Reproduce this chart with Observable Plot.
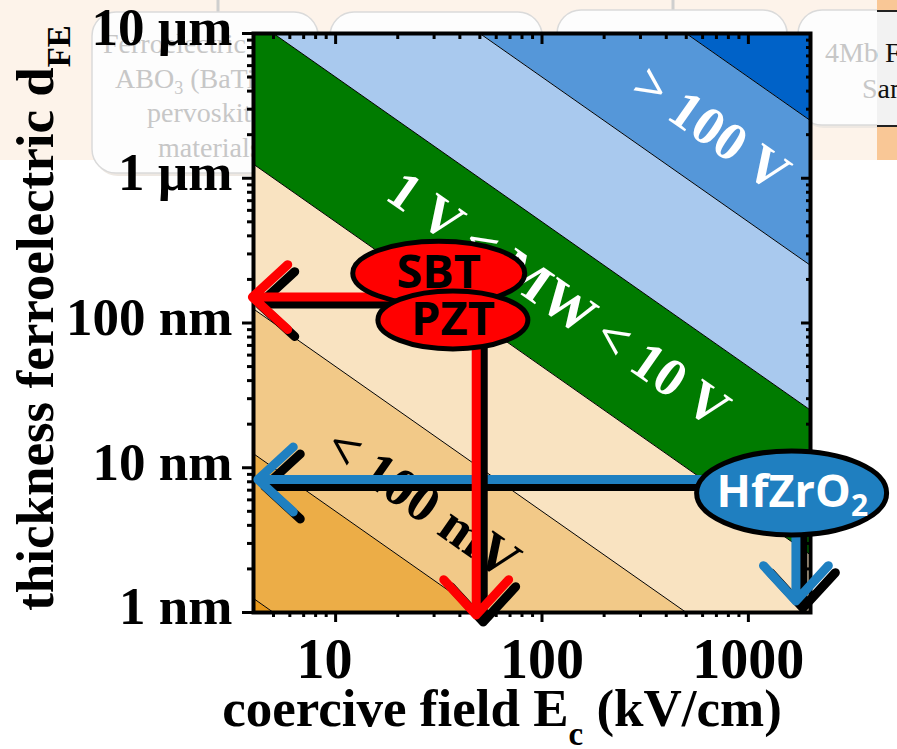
<!DOCTYPE html>
<html><head><meta charset="utf-8">
<script src="https://cdn.jsdelivr.net/npm/d3@7"></script>
<script src="https://cdn.jsdelivr.net/npm/@observablehq/plot@0.6"></script>
<style>
html,body{margin:0;padding:0;background:#fff;}
#wrap{position:relative;width:897px;height:749px;overflow:hidden;}
#bg,#chart{position:absolute;left:0;top:0;}
</style></head><body><div id="wrap"><svg id="bg" width="897" height="749"></svg><div id="chart"></div></div>
<script>
// ---------- data ----------
// memory window MW = 2·Ec·d  (Ec in kV/cm, d in nm)  ->  MW[V] = 2e-4·Ec·d
const mwLevels = [1e-3, 1e-2, 1e-1, 1, 10, 100, 1000];          // band boundaries (V)
const bandColors = ["#E8981C","#ECAD47","#F2C988","#F9E3C1","#007B00","#A9C9EE","#5597D9","#0062C8"];
const ecDomain = [4, 2000];        // kV/cm
const dDomain = [1, 10000];        // nm
const xMajor = [10, 100, 1000];
const xLabels = ["10", "100", "1000"];
const xMinor = [5,6,7,8,9,20,30,40,50,60,70,80,90,200,300,400,500,600,700,800,900];
const yMajor = [1, 10, 100, 1000, 10000];
const yLabels = ["1 nm", "10 nm", "100 nm", "1 µm", "10 µm"];
const yMinor = [2,3,4,5,6,7,8,9,20,30,40,50,60,70,80,90,200,300,400,500,600,700,800,900,2000,3000,4000,5000,6000,7000,8000,9000];

const materials = ["SBT", "PZT", "HfZrO"];
const materialSub = ["", "", "2"];
const matEc = [31.6, 37, 1620];
const matD  = [221, 105, 6.7];

const bandLabels = ["> 100 V", "1 V < MW < 10 V", "< 100 mV"];
const bandLabelEc = [660, 120, 26.4];
const bandLabelD  = [2200, 145, 5.7];

const redArrows  = [{x1: 30, y1: 151, x2: 3.95, y2: 151}, {x1: 48, y1: 105, x2: 48, y2: 0.96}];
const blueArrows = [{x1: 600, y1: 8.3, x2: 4.2, y2: 8.3}, {x1: 1700, y1: 12, x2: 1700, y2: 1.2}];

// ---------- helpers ----------
const toD = (mw, ec) => mw / (2e-4 * ec);
const bandLows = [1e-6, ...mwLevels];
const bandHighs = [...mwLevels, 1e6];
const serif = "Liberation Serif, Times New Roman, serif";
const sans = "Open Sans, Noto Sans, sans-serif";
function ellipse(rx, ry) {
  const k = 0.5523;
  return {draw(c) {
    c.moveTo(rx, 0);
    c.bezierCurveTo(rx, ry*k, rx*k, ry, 0, ry);
    c.bezierCurveTo(-rx*k, ry, -rx, ry*k, -rx, 0);
    c.bezierCurveTo(-rx, -ry*k, -rx*k, -ry, 0, -ry);
    c.bezierCurveTo(rx*k, -ry, rx, -ry*k, rx, 0);
    c.closePath();
  }};
}
const mats = materials.map((name, i) => ({name, sub: materialSub[i], ec: matEc[i], d: matD[i]}));
const labels = bandLabels.map((t, i) => ({t, ec: bandLabelEc[i], d: bandLabelD[i]}));
const ellStyle = [
  {sym: ellipse(86, 32), fill: "#FF0000", color: "black", size: 47, dx: 0},
  {sym: ellipse(75, 29), fill: "#FF0000", color: "black", size: 47, dx: 0},
  {sym: ellipse(95, 42), fill: "#1F7FC0", color: "white", size: 45, dx: -8}
];
const arrowOpts = {x1: "x1", y1: "y1", x2: "x2", y2: "y2", strokeWidth: 9, headAngle: 85, headLength: 8};
const tk = {stroke: "black", strokeWidth: 3, fill: "none", label: null};
const labStyle = {tickSize: 0, label: null, fontWeight: "bold", fontFamily: serif, fill: "black"};

const matMarks = [];
mats.forEach((m, i) => {
  const s = ellStyle[i];
  matMarks.push(Plot.dot([m], {x: "ec", y: "d", symbol: s.sym, r: 10, fill: s.fill, stroke: "black", strokeWidth: 5}));
  matMarks.push(Plot.text([m], {x: "ec", y: "d", text: "name", fontFamily: sans, fontWeight: "bold",
    fontSize: s.size, fill: s.color, dx: s.dx}));
  if (m.sub) matMarks.push(Plot.text([m], {x: "ec", y: "d", text: "sub", fontFamily: sans, fontWeight: "bold",
    fontSize: 30, fill: s.color, dx: 68, dy: 13}));
});

const plot = Plot.plot({
  width: 897, height: 749,
  marginLeft: 253, marginRight: 87, marginTop: 33, marginBottom: 137,
  style: {background: "transparent", overflow: "visible"},
  x: {type: "log", domain: ecDomain},
  y: {type: "log", domain: dDomain},
  marks: [
    ...bandColors.map((c, i) => Plot.areaY(ecDomain, {x: e => e, y1: e => toD(bandLows[i], e), y2: e => toD(bandHighs[i], e), fill: c, clip: true})),
    ...mwLevels.map(v => Plot.line(ecDomain, {x: e => e, y: e => toD(v, e), stroke: "black", strokeWidth: 1, clip: true})),
    // ticks
    Plot.axisY({anchor: "left", ticks: yMajor, tickSize: 11, ...tk}),
    Plot.axisY({anchor: "left", ticks: yMinor, tickSize: 6, ...tk}),
    Plot.axisY({anchor: "right", ticks: yMajor, tickSize: -10, ...tk}),
    Plot.axisY({anchor: "right", ticks: yMinor, tickSize: -5, ...tk}),
    Plot.axisX({anchor: "bottom", ticks: xMajor, tickSize: 10, ...tk}),
    Plot.axisX({anchor: "bottom", ticks: xMinor, tickSize: 5, ...tk}),
    Plot.axisX({anchor: "top", ticks: xMajor, tickSize: -10, ...tk}),
    Plot.axisX({anchor: "top", ticks: xMinor, tickSize: -5, ...tk}),
    // tick labels
    Plot.axisY({anchor: "left", ticks: yMajor, tickPadding: 21, ...labStyle,
      tickFormat: d => yLabels[yMajor.indexOf(d)], fontSize: 53, dy: -5}),
    Plot.axisX({anchor: "bottom", ticks: xMajor.slice(0, 1), tickPadding: 26, ...labStyle,
      tickFormat: d => xLabels[xMajor.indexOf(d)], fontSize: 56, dx: -11}),
    Plot.axisX({anchor: "bottom", ticks: xMajor.slice(1), tickPadding: 26, ...labStyle,
      tickFormat: d => xLabels[xMajor.indexOf(d)], fontSize: 56}),
    Plot.frame({stroke: "black", strokeWidth: 4}),
    // band labels
    Plot.text(labels, {x: "ec", y: "d", text: "t", rotate: 35, fontSize: 54, fontWeight: "bold", fontFamily: serif,
      fill: (d, i) => i === 2 ? "black" : "white"}),
    // arrows
    Plot.arrow(blueArrows, {...arrowOpts, stroke: "black", dx: 7, dy: 7}),
    Plot.arrow(blueArrows, {...arrowOpts, stroke: "#1F80C1"}),
    Plot.arrow(redArrows, {...arrowOpts, stroke: "black", dx: 7, dy: 7}),
    Plot.arrow(redArrows, {...arrowOpts, stroke: "#FF0000"}),
    ...matMarks
  ]
});
document.getElementById("chart").appendChild(plot);

// axis titles with subscripts
const svg = d3.select(plot);
const xt = svg.append("text").attr("x", 502).attr("y", 726).attr("text-anchor", "middle")
  .attr("font-family", serif).attr("font-weight", "bold").attr("font-size", 53).attr("fill", "black");
xt.append("tspan").text("coercive field E");
xt.append("tspan").attr("font-size", 33).attr("dy", 19).text("c");
xt.append("tspan").attr("dy", -19).text(" (kV/cm)");
const yt = svg.append("text").attr("transform", "translate(53,318) rotate(-90)").attr("text-anchor", "middle")
  .attr("font-family", serif).attr("font-weight", "bold").attr("font-size", 53).attr("fill", "black");
yt.append("tspan").text("thickness ferroelectric d");
yt.append("tspan").attr("font-size", 33).attr("dy", 17).text("FE");

// ---------- slide background behind the chart ----------
const bg = d3.select("#bg");
bg.append("rect").attr("x", 0).attr("y", 0).attr("width", 877).attr("height", 160).attr("fill", "#FDF3EA");
bg.append("line").attr("x1", 218).attr("x2", 218).attr("y1", 0).attr("y2", 13).attr("stroke", "#CFCFCF").attr("stroke-width", 3);
bg.append("line").attr("x1", 673).attr("x2", 673).attr("y1", 0).attr("y2", 11).attr("stroke", "#CFCFCF").attr("stroke-width", 3);
const boxes = [[92, 12, 226, 161], [330, 12, 212, 200], [557, 10, 230, 200], [798, 10, 140, 115]];
boxes.forEach(([x, y, w, h]) => {
  bg.append("rect").attr("x", x + 2).attr("y", y + 3).attr("width", w).attr("height", h).attr("rx", 24).attr("fill", "#EEE8E2");
  bg.append("rect").attr("x", x).attr("y", y).attr("width", w).attr("height", h).attr("rx", 24)
    .attr("fill", "#FDFDFD").attr("stroke", "#DADADA").attr("stroke-width", 1.5);
});
const grayTxt = (x, y, s) => bg.append("text").attr("x", x).attr("y", y).attr("font-family", serif).attr("font-size", 28).attr("fill", "#C7C7C7").text(s);
grayTxt(103, 53, "Ferroelectric");
const abo = grayTxt(115, 88, "ABO");
abo.append("tspan").attr("font-size", 18).attr("dy", 6).text("3");
abo.append("tspan").attr("dy", -6).text(" (BaTiO");
grayTxt(147, 122, "pervoskite");
grayTxt(158, 157, "materials");
grayTxt(825, 62, "4Mb FeRAM");
grayTxt(862, 98, "Samsung");
// right-hand overlay strip
bg.append("rect").attr("x", 877).attr("y", 0).attr("width", 20).attr("height", 160).attr("fill", "#F9C796");
bg.append("rect").attr("x", 877).attr("y", 11).attr("width", 20).attr("height", 115).attr("fill", "#F2F2F2");
bg.append("line").attr("x1", 877).attr("x2", 897).attr("y1", 11).attr("y2", 11).attr("stroke", "#222").attr("stroke-width", 2);
bg.append("line").attr("x1", 877).attr("x2", 897).attr("y1", 126).attr("y2", 126).attr("stroke", "#222").attr("stroke-width", 2);
bg.append("clipPath").attr("id", "rc").append("rect").attr("x", 877).attr("y", 12).attr("width", 20).attr("height", 113);
const g = bg.append("g").attr("clip-path", "url(#rc)");
g.append("text").attr("x", 825).attr("y", 62).attr("font-family", serif).attr("font-size", 28).attr("fill", "#111").text("4Mb FeRAM");
g.append("text").attr("x", 862).attr("y", 98).attr("font-family", serif).attr("font-size", 28).attr("fill", "#111").text("Samsung");
</script></body></html>
